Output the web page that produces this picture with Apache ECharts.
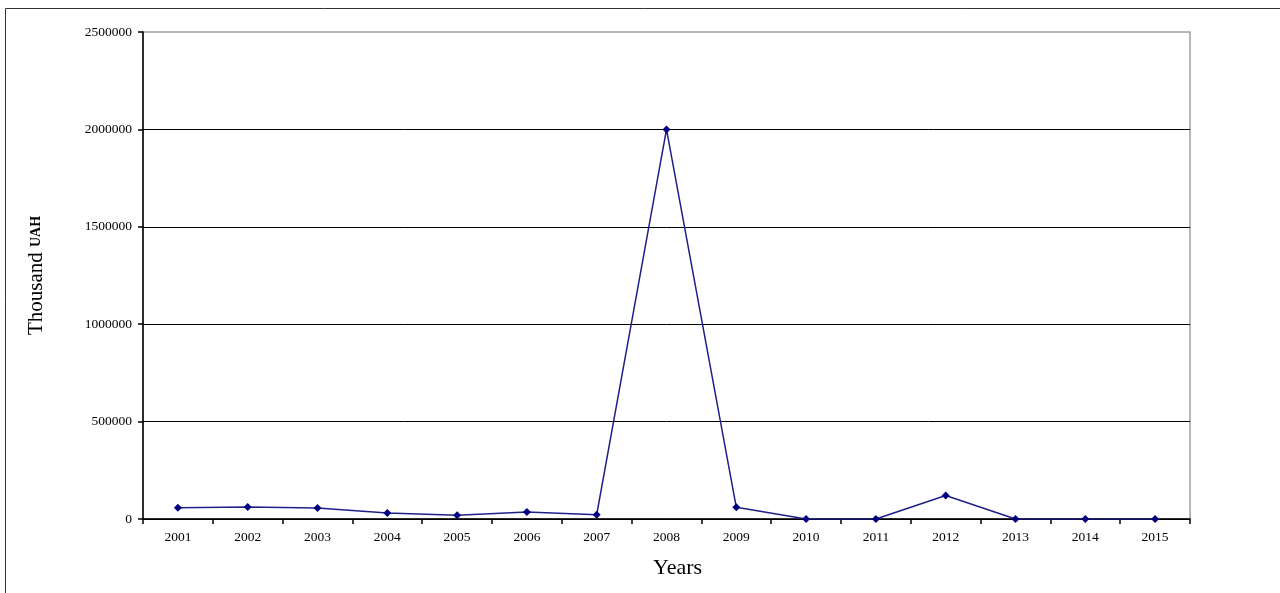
<!DOCTYPE html>
<html><head><meta charset="utf-8">
<script src="https://cdn.jsdelivr.net/npm/echarts@6/dist/echarts.min.js"></script>
<style>html,body{margin:0;padding:0;background:#fff}#c{width:1280px;height:593px}</style>
</head><body><div id="c"></div>
<script>
var years = ['2001','2002','2003','2004','2005','2006','2007','2008','2009','2010','2011','2012','2013','2014','2015'];
var values = [58000, 61000, 56000, 31000, 19000, 36000, 22000, 2000000, 60000, 0, 0, 121000, 0, 0, 0];
var chart = echarts.init(document.getElementById('c'));
var serif = '"Liberation Serif", "DejaVu Serif", serif';
chart.setOption({
  backgroundColor: '#fff',
  animation: false,
  graphic: [{type:'rect', shape:{x:5.5,y:8.5,width:1400,height:700}, style:{fill:'none', stroke:'#333', lineWidth:1}, silent:true}],
  grid: {left:143, right:90, top:32, bottom:74, show:true, borderColor:'#a0a0a0', borderWidth:1.5, backgroundColor:'transparent'},
  xAxis: {
    type:'category', data: years, boundaryGap:true,
    axisLine:{lineStyle:{color:'#000', width:1.5}},
    axisTick:{show:true, length:5, lineStyle:{color:'#000', width:1.5}, alignWithLabel:false},
    axisLabel:{color:'#000', fontFamily:serif, fontSize:13.5, margin:11},
    name:'Years', nameLocation:'middle', nameGap:38,
    nameTextStyle:{color:'#000', fontFamily:serif, fontSize:22, padding:[0,0,0,22]}
  },
  yAxis: {
    type:'value', min:0, max:2500000, interval:500000,
    axisLine:{show:true, lineStyle:{color:'#000', width:1.5}},
    axisTick:{show:true, length:5, lineStyle:{color:'#000', width:1.5}},
    axisLabel:{color:'#000', fontFamily:serif, fontSize:13.5, margin:11, formatter:function(v){return String(v);}},
    splitLine:{show:true, showMaxLine:false, lineStyle:{color:'#000', width:1}},
    name:'{a|Thousand }{b|UAH}', nameLocation:'middle', nameGap:96, nameRotate:90,
    nameTextStyle:{rich:{a:{color:'#000', fontFamily:serif, fontSize:21}, b:{color:'#000', fontFamily:serif, fontSize:14, fontWeight:'bold'}}}
  },
  series: [{
    type:'line', data: values,
    symbol:'diamond', symbolSize:8,
    lineStyle:{color:'#1f1f8a', width:1.5},
    itemStyle:{color:'#000080'}
  }]
});
</script></body></html>
